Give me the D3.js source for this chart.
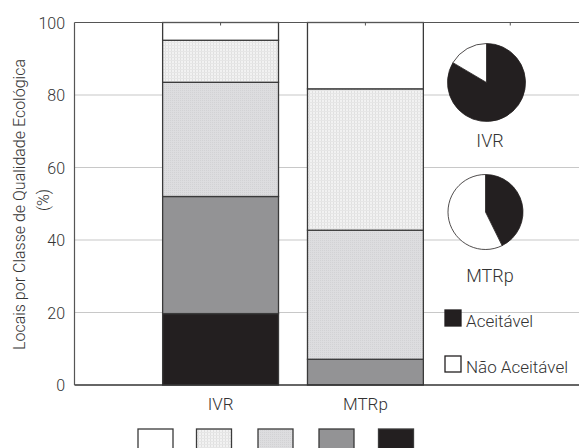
<!DOCTYPE html>
<html><head><meta charset="utf-8">
<script src="https://cdn.jsdelivr.net/npm/d3@7"></script>
<style>
body{margin:0;background:#fff;}
svg{display:block;font-family:Roboto,"DejaVu Sans",sans-serif;font-weight:300;}
</style></head>
<body><svg id="c" width="579" height="448"></svg>
<script>
const categories = ["IVR", "MTRp", "pies"];
const classes = ["c1", "c2", "c3", "c4", "c5"]; // bottom (black) to top (white)
const ivrValues = [19.7, 32.3, 31.5, 11.6, 4.9];
const mtrpValues = [0, 7.1, 35.6, 39.0, 18.3];
const pieLabels = ["IVR", "MTRp"];
const pieAcceptable = [83.5, 42.7];
const yTicks = [0, 20, 40, 60, 80, 100];
const legendLabels = ["Aceitável", "Não Aceitável"];
const yTitle = "Locais por Classe de Qualidade Ecológica";
const yTitle2 = "(%)";

const svg = d3.select("#c");
const defs = svg.append("defs");
const p1 = defs.append("pattern").attr("id","hatch").attr("width",3).attr("height",3).attr("patternUnits","userSpaceOnUse");
p1.append("rect").attr("width",3).attr("height",3).attr("fill","#f2f2f2");
p1.append("rect").attr("width",1).attr("height",3).attr("fill","#e0e0e0");
p1.append("rect").attr("width",3).attr("height",1).attr("fill","#e6e6e6");
const p2 = defs.append("pattern").attr("id","dots").attr("width",2).attr("height",2).attr("patternUnits","userSpaceOnUse");
p2.append("rect").attr("width",2).attr("height",2).attr("fill","#dddddf");
p2.append("rect").attr("width",1).attr("height",1).attr("fill","#d2d2d4");

const fills = ["#231f20", "#939395", "url(#dots)", "url(#hatch)", "#ffffff"];

const mLeft = 74.5, mRight = 579, mTop = 22.5, mBottom = 385;
const x = d3.scaleBand().domain(categories).range([mLeft, 578])
  .paddingInner(0.2).paddingOuter(0.338).align(0.9);
const y = d3.scaleLinear().domain([0, 100]).range([mBottom, mTop]);
const txt = "#333";

// gridlines
svg.append("g").selectAll("line").data(yTicks.filter(t => t > 0 && t < 100)).join("line")
  .attr("x1", mLeft).attr("x2", mRight).attr("y1", d => y(d)).attr("y2", d => y(d))
  .attr("stroke", "#c8c8c8").attr("stroke-width", 1.2);

// bars
const series = [{cat:"IVR", vals:ivrValues}, {cat:"MTRp", vals:mtrpValues}];
series.forEach(s => {
  let acc = 0;
  const segs = s.vals.map((v, i) => { const o = {y0: acc, y1: acc + v, i}; acc += v; return o; });
  svg.append("g").selectAll("rect").data(segs.filter(d => d.y1 > d.y0)).join("rect")
    .attr("x", x(s.cat)).attr("width", x.bandwidth())
    .attr("y", d => y(d.y1)).attr("height", d => y(d.y0) - y(d.y1))
    .attr("fill", d => fills[d.i]).attr("stroke", "#3a3a3a").attr("stroke-width", 1.3);
});

// frame lines
svg.append("line").attr("x1", mLeft).attr("x2", mRight).attr("y1", mTop).attr("y2", mTop).attr("stroke","#555").attr("stroke-width",1.2);
svg.append("line").attr("x1", mLeft).attr("x2", mRight).attr("y1", mBottom).attr("y2", mBottom).attr("stroke","#333").attr("stroke-width",1.4);
svg.append("line").attr("x1", mLeft).attr("x2", mLeft).attr("y1", mTop).attr("y2", mBottom).attr("stroke","#555").attr("stroke-width",1.2);
// top ticks
svg.append("g").selectAll("line").data(categories).join("line")
  .attr("x1", d => x(d) + x.bandwidth()/2).attr("x2", d => x(d) + x.bandwidth()/2)
  .attr("y1", mTop).attr("y2", mTop + 3).attr("stroke", "#555");

// y axis labels
svg.append("g").selectAll("text").data(yTicks).join("text")
  .attr("x", 65).attr("y", d => y(d) + 6).attr("text-anchor", "end")
  .attr("font-size", 16).attr("fill", txt).text(d => d);

// y title
svg.append("text").attr("transform", `translate(25,204.5) rotate(-90)`)
  .attr("text-anchor","middle").attr("font-size",16).attr("fill",txt).text(yTitle);
svg.append("text").attr("transform", `translate(48.5,200) rotate(-90)`)
  .attr("text-anchor","middle").attr("font-size",16).attr("fill",txt).text(yTitle2);

// category labels
svg.append("g").selectAll("text").data(categories.slice(0,2)).join("text")
  .attr("x", d => x(d) + x.bandwidth()/2).attr("y", 410).attr("text-anchor","middle")
  .attr("font-size",17).attr("fill",txt).text(d => d);

// pies
const pieGen = d3.pie().sort(null).value(d => d);
const arc = d3.arc().innerRadius(0);
const pieCenters = [{cx: 486.5, cy: 82.5, r: 39}, {cx: 485.5, cy: 212, r: 37.5}];
pieAcceptable.forEach((a, i) => {
  const c = pieCenters[i];
  const g = svg.append("g").attr("transform", `translate(${c.cx},${c.cy})`);
  const arcs = pieGen([a, 100 - a]);
  g.selectAll("path").data(arcs).join("path")
    .attr("d", d => arc.outerRadius(c.r)(d))
    .attr("fill", (d, j) => j === 0 ? "#231f20" : "#fff")
    .attr("stroke", "#231f20").attr("stroke-width", 0.8);
  svg.append("text").attr("x", 490).attr("y", i === 0 ? 147 : 282).attr("text-anchor","middle")
    .attr("font-size",18).attr("fill",txt).text(pieLabels[i]);
});

// legend (pies)
const legY = [310, 356];
legendLabels.forEach((l, i) => {
  svg.append("rect").attr("x", 445).attr("y", legY[i]).attr("width", 16).attr("height", 16)
    .attr("fill", i === 0 ? "#231f20" : "#fff").attr("stroke", "#231f20").attr("stroke-width", 1.3);
  svg.append("text").attr("x", 466).attr("y", legY[i] + 17).attr("font-size", 17).attr("fill",txt).text(l);
});

// bottom legend boxes (class colours, top to bottom order)
const boxX = [138, 196.5, 258, 319, 378.5];
const order = [4, 3, 2, 1, 0];
svg.append("g").selectAll("rect").data(order).join("rect")
  .attr("x", (d, i) => boxX[i]).attr("y", 429).attr("width", 35).attr("height", 30)
  .attr("fill", d => fills[d]).attr("stroke", "#3a3a3a").attr("stroke-width", 1.3);
</script></body></html>
